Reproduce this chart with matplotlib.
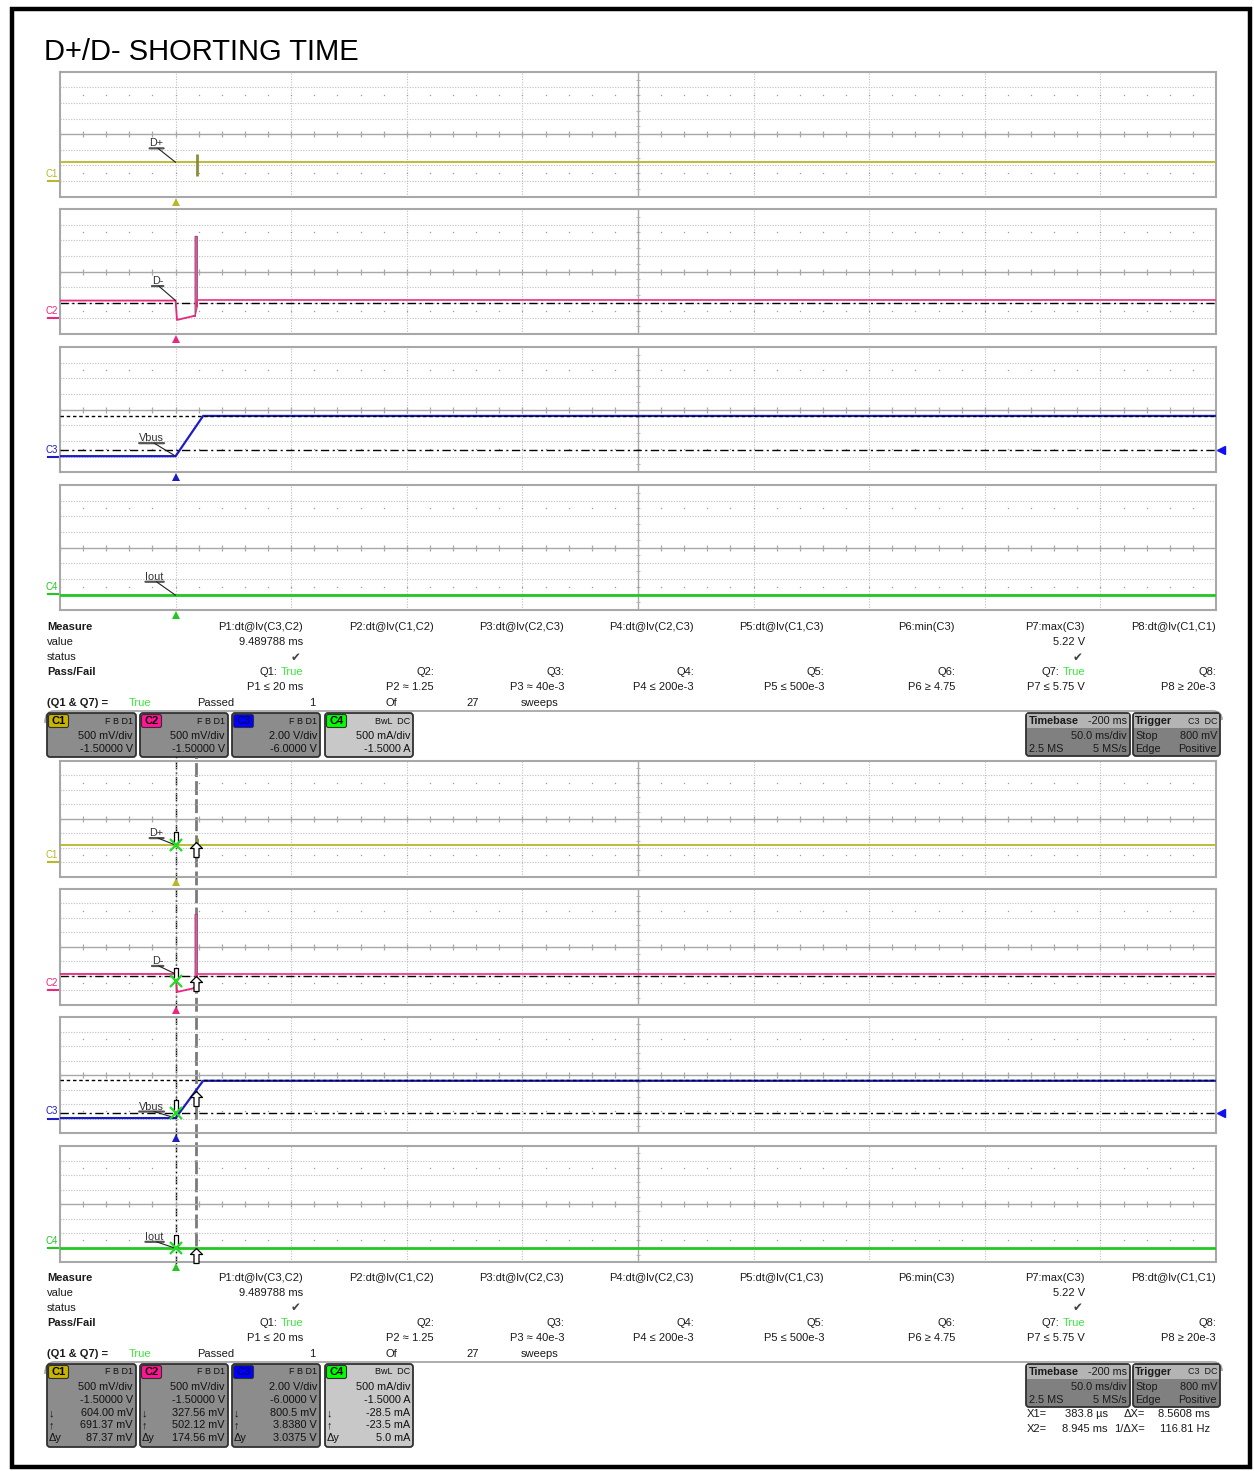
import numpy as np
import matplotlib
matplotlib.use('Agg')
import matplotlib.pyplot as plt
import matplotlib.patches as mpatches
from matplotlib.path import Path
from matplotlib.transforms import offset_copy, blended_transform_factory

plt.rcParams['font.family'] = ['Liberation Sans', 'DejaVu Sans']

# ---------------- DATA ----------------
title = 'D+/D- SHORTING TIME'
ms_per_div = 50.0
t_start = -50.0
n_xdiv = 10
n_ydiv = 8

channels = ['C1', 'C2', 'C3', 'C4']
trace_names = ['D+', 'D-', 'Vbus', 'Iout']
ch_colors = ['#B8B82A', '#E8287E', '#1C1CC4', '#22C822']
tab_colors = ['#C8B400', '#FF1493', '#0000FF', '#00FF00']
tab_text_colors = ['#000000', '#000000', '#000070', '#000000']
ch_per_div = [0.5, 0.5, 2.0, 0.5]
ch_offsets = [-1.5, -1.5, -6.0, -1.5]

c1_t = [-50.0, 450.0]
c1_v = [0.60, 0.60]
c1_glitch_t = [9.3]
c1_glitch_lo = [0.16]
c1_glitch_hi = [0.86]

c2_pre_t = [-50.0, 0.0, 0.6, 8.0]
c2_pre_v = [0.57, 0.57, -0.05, 0.08]
c2_spike_t = [8.2, 9.2]
c2_spike_lo = [0.08, 0.40]
c2_spike_hi = [2.64, 2.64]
c2_post_t = [9.3, 450.0]
c2_post_v = [0.58, 0.58]
c2_level = 0.5

c3_t = [-50.0, 0.0, 11.9, 450.0]
c3_v = [0.06, 0.06, 5.20, 5.20]
c3_trig_level = 0.8
c3_max_level = 5.25

c4_t = [-50.0, 450.0]
c4_v = [-0.028, -0.028]

cursor_x1 = 0.3838
cursor_x2 = 8.945
cursor_y1 = [0.60400, 0.32756, 0.8005, -0.0285]
cursor_y2 = [0.69137, 0.50212, 3.8380, -0.0235]

meas_names = ['P1:dt@lv(C3,C2)', 'P2:dt@lv(C1,C2)', 'P3:dt@lv(C2,C3)', 'P4:dt@lv(C2,C3)',
              'P5:dt@lv(C1,C3)', 'P6:min(C3)', 'P7:max(C3)', 'P8:dt@lv(C1,C1)']
meas_values = ['9.489788 ms', '', '', '', '', '', '5.22 V', '']
meas_status = ['\u2714', '', '', '', '', '', '\u2714', '']
q_names = ['Q1:', 'Q2:', 'Q3:', 'Q4:', 'Q5:', 'Q6:', 'Q7:', 'Q8:']
q_results = ['True', '', '', '', '', '', 'True', '']
q_limits = ['P1 \u2264 20 ms', 'P2 \u2248 1.25', 'P3 \u2248 40e-3', 'P4 \u2264 200e-3',
            'P5 \u2264 500e-3', 'P6 \u2265 4.75', 'P7 \u2264 5.75 V', 'P8 \u2265 20e-3']
summary = ['(Q1 & Q7) =', 'True', 'Passed', '1', 'Of', '27', 'sweeps']

box_flags = ['F B D1', 'F B D1', 'F B D1', 'BwL  DC']
box_scale_txt = ['500 mV/div', '500 mV/div', '2.00 V/div', '500 mA/div']
box_offset_txt = ['-1.50000 V', '-1.50000 V', '-6.0000 V', '-1.5000 A']
box_y1_txt = ['604.00 mV', '327.56 mV', '800.5 mV', '-28.5 mA']
box_y2_txt = ['691.37 mV', '502.12 mV', '3.8380 V', '-23.5 mA']
box_dy_txt = ['87.37 mV', '174.56 mV', '3.0375 V', '5.0 mA']

timebase_txt = ['Timebase', '-200 ms', '50.0 ms/div', '2.5 MS', '5 MS/s']
trigger_txt = ['Trigger', 'C3  DC', 'Stop', '800 mV', 'Edge', 'Positive']
cursor_txt = [['X1=', '383.8 \u00b5s', '\u0394X=', '8.5608 ms'],
              ['X2=', '8.945 ms', '1/\u0394X=', '116.81 Hz']]

# ---------------- FIGURE ----------------
W, H = 1254, 1471
fig = plt.figure(figsize=(W / 100, H / 100), dpi=100)
fig.patch.set_facecolor('white')

bg = fig.add_axes([0, 0, 1, 1])
bg.set_xlim(0, W)
bg.set_ylim(H, 0)
bg.axis('off')

def T(x, y, s, **kw):
    kw.setdefault('fontsize', 8)
    kw.setdefault('va', 'center')
    kw.setdefault('color', '#1a1a1a')
    return bg.text(x, y, s, **kw)

def px_axes(x0, y0, x1, y1):
    return fig.add_axes([x0 / W, 1 - y1 / H, (x1 - x0) / W, (y1 - y0) / H])

# outer frame
bg.add_patch(mpatches.Rectangle((12, 9), 1238, 1458, fill=False, ec='black', lw=3.2))
T(44, 52, title, fontsize=21, color='black', ha='left')

PX0, PX1 = 60, 1216
t_end = t_start + n_xdiv * ms_per_div
top_rows = [(71.7, 196.7), (209, 334), (347, 472.3), (485, 610)]
bot_rows = [(761, 877), (889, 1005), (1017, 1133), (1146, 1262)]

label_dx = [-19, -18, -24, -21]
label_dy_top = [19, 19.5, 18, 18.5]
label_dy_bot = [12, 13, 11.5, 11.5]

def to_div(v, k):
    return (np.asarray(v, dtype=float) + ch_offsets[k]) / ch_per_div[k]

# cursor overlay (bottom half)
ov = px_axes(PX0, 757, PX1, 1264)
ov.set_xlim(t_start, t_end)
ov.set_ylim(0, 1)
ov.axis('off')
ov.axvline(cursor_x1, color='black', lw=1.0, ls=(0, (6, 2, 1.5, 2)))
ov.axvline(cursor_x2, color='#7a7a7a', lw=2.0, ls=(0, (5, 1.5)))

arrow_up = [(0, 0), (6, -6), (2.5, -6), (2.5, -15), (-2.5, -15), (-2.5, -6), (-6, -6), (0, 0)]
arrow_dn = [(0, 0), (3.5, 4), (2, 4), (2, 13), (-2, 13), (-2, 4), (-3.5, 4), (0, 0)]

def grid(ax):
    ax.set_xlim(t_start, t_end)
    ax.set_ylim(-n_ydiv / 2, n_ydiv / 2)
    ax.set_facecolor('none')
    ax.set_xticks([])
    ax.set_yticks([])
    for s in ax.spines.values():
        s.set_color('#A8A8A8')
        s.set_linewidth(1.5)
    for i in range(1, n_xdiv):
        x = t_start + i * ms_per_div
        if i == n_xdiv // 2:
            ax.axvline(x, color='#A8A8A8', lw=1.0, zorder=1)
        else:
            ax.axvline(x, color='#BEBEBE', lw=0.8, ls=(0, (1, 1.4)), zorder=1)
    for j in range(-n_ydiv // 2 + 1, n_ydiv // 2):
        if j == 0:
            ax.axhline(0, color='#A8A8A8', lw=1.0, zorder=1)
        else:
            ax.axhline(j, color='#BEBEBE', lw=0.8, ls=(0, (1, 1.4)), zorder=1)
    mt = np.arange(t_start, t_end + 1e-9, ms_per_div / 5)
    ax.plot(mt, np.zeros_like(mt), ls='none', marker='|', ms=5, mew=0.9, color='#A8A8A8', zorder=1)
    my = np.arange(-n_ydiv / 2, n_ydiv / 2 + 1e-9, 0.5)
    ax.plot(np.full_like(my, t_start + ms_per_div * n_xdiv / 2), my, ls='none', marker='_',
            ms=3.5, mew=0.7, color='#B4B4B4', zorder=1)
    for yy in (-2.5, 2.5):
        ax.plot(mt, np.full_like(mt, yy), ls='none', marker='s', ms=0.9, mew=0,
                color='#9A9A9A', zorder=1)

def draw_panel(k, y0, y1, bottom):
    ax = px_axes(PX0, y0, PX1, y1)
    grid(ax)
    col = ch_colors[k]
    if k == 0:
        ax.plot(c1_t, to_div(c1_v, 0), color=col, lw=1.3, zorder=3)
        ax.vlines(c1_glitch_t, to_div(c1_glitch_lo, 0), to_div(c1_glitch_hi, 0),
                  color='#8C8C3A', lw=2.0, zorder=3)
        tv = np.interp(0, c1_t, c1_v)
    elif k == 1:
        ax.axhline(to_div(c2_level, 1), color='black', lw=1.0, ls=(0, (6, 2.5, 1.5, 2.5)), zorder=2)
        ax.plot(c2_pre_t, to_div(c2_pre_v, 1), color=col, lw=1.3, zorder=3)
        ax.fill_between(c2_spike_t, to_div(c2_spike_lo, 1), to_div(c2_spike_hi, 1),
                        color='#CC6A9C', lw=0.8, ec='#B24A80', zorder=3)
        ax.plot([c2_pre_t[-1], c2_spike_t[0]], to_div([c2_pre_v[-1], c2_spike_lo[0]], 1),
                color=col, lw=1.3, zorder=3)
        ax.plot([c2_spike_t[-1], c2_post_t[0]], to_div([c2_spike_lo[-1], c2_post_v[0]], 1),
                color=col, lw=1.3, zorder=3)
        ax.plot(c2_post_t, to_div(c2_post_v, 1), color='#EE3E8E', lw=1.3, zorder=3)
        tv = np.interp(0, c2_pre_t, c2_pre_v)
    elif k == 2:
        ax.plot(c3_t, to_div(c3_v, 2), color=col, lw=1.6, zorder=3)
        ax.axhline(to_div(c3_trig_level, 2), color='black', lw=1.0, ls=(0, (6, 2.5, 1.5, 2.5)), zorder=4)
        ax.axhline(to_div(c3_max_level, 2), color='black', lw=1.0, ls=(0, (2.5, 2)), zorder=4)
        ax.plot([t_end], [to_div(c3_trig_level, 2)], marker='<', ms=6, color='#1010F0', clip_on=False,
                transform=offset_copy(ax.transData, fig=fig, x=5, y=0, units='dots'), zorder=5)
        tv = np.interp(0, c3_t, c3_v)
    else:
        ax.plot(c4_t, to_div(c4_v, 3), color=col, lw=2.0, zorder=3)
        tv = np.interp(0, c4_t, c4_v)

    # channel ground marker and name
    trans = blended_transform_factory(fig.transFigure, ax.transData)
    gnd = ch_offsets[k] / ch_per_div[k]
    ax.plot([48 / W, 59 / W], [gnd, gnd], color=col, lw=1.5, transform=trans, clip_on=False)
    ax.text(52 / W, gnd, channels[k], transform=offset_copy(trans, fig=fig, y=7, units='dots'),
            ha='center', va='center', fontsize=7, color=col)

    # trigger position marker
    ax.plot([0], [-n_ydiv / 2], marker='^', ms=6, color=col, clip_on=False, mew=0,
            transform=offset_copy(ax.transData, fig=fig, x=0, y=-5, units='dots'), zorder=5)

    # trace label (text, underline, pointer)
    pt = (0, float(to_div(tv, k)))
    dy = label_dy_bot[k] if bottom else label_dy_top[k]
    lab = ax.annotate(trace_names[k], xy=pt, xycoords='data', xytext=(label_dx[k], dy),
                      textcoords='offset pixels', ha='center', va='center', fontsize=7.8,
                      color='#333333', zorder=6)
    ax.annotate('', xy=(1.0, 0.0), xycoords=lab, xytext=(0.0, 0.0), textcoords=lab,
                arrowprops=dict(arrowstyle='-', color='#555555', lw=1.6, shrinkA=0, shrinkB=0),
                zorder=6)
    ax.annotate('', xy=pt, xycoords='data', xytext=(0.6, 0.0), textcoords=lab,
                arrowprops=dict(arrowstyle='-', color='#222222', lw=0.8, shrinkA=0, shrinkB=0),
                zorder=6)

    if bottom:
        ax.plot([cursor_x1], [to_div(cursor_y1[k], k)], ls='none', marker=arrow_dn, ms=18.7,
                mfc='white', mec='black', mew=0.9, zorder=7, clip_on=False)
        ax.plot([cursor_x2], [to_div(cursor_y2[k], k)], ls='none', marker=arrow_up, ms=21.6,
                mfc='white', mec='black', mew=0.9, zorder=7, clip_on=False)
        ax.plot([cursor_x1], [to_div(cursor_y1[k], k)], ls='none', marker='x', ms=8,
                mew=1.6, color='#22DD22', zorder=8, clip_on=False)
    return ax

for k in range(4):
    draw_panel(k, *top_rows[k], bottom=False)
for k in range(4):
    draw_panel(k, *bot_rows[k], bottom=True)

# ---------------- TABLES ----------------
col_right = [303, 434, 564, 694, 824, 955, 1085, 1216]
GREEN = '#3CE63C'

def draw_table(y0):
    rows = [y0, y0 + 15, y0 + 30, y0 + 45, y0 + 60, y0 + 76]
    T(47, rows[0], 'Measure', fontweight='bold')
    T(47, rows[1], 'value')
    T(47, rows[2], 'status')
    T(47, rows[3], 'Pass/Fail', fontweight='bold')
    for i, xr in enumerate(col_right):
        T(xr, rows[0], meas_names[i], ha='right')
        if meas_values[i]:
            T(xr, rows[1], meas_values[i], ha='right')
        if meas_status[i]:
            T(xr - 2, rows[2], meas_status[i], ha='right', color='#404040', fontsize=8.5,
              family=['DejaVu Sans'])
        if q_results[i]:
            tr = T(xr, rows[3], q_results[i], ha='right', color=GREEN)
            bg.annotate(q_names[i], xy=(0, 0.5), xycoords=tr, xytext=(-3, 0),
                        textcoords='offset pixels', ha='right', va='center', fontsize=8,
                        color='#1a1a1a')
        else:
            T(xr, rows[3], q_names[i], ha='right')
        T(xr, rows[4], q_limits[i], ha='right')
    r = rows[5]
    T(47, r, summary[0], fontweight='bold')
    T(129, r, summary[1], color=GREEN)
    T(197, r, summary[2])
    T(315, r, summary[3], ha='right')
    T(386, r, summary[4])
    T(479, r, summary[5], ha='right')
    T(521, r, summary[6])

draw_table(627)
draw_table(1278)

def frame_line(y):
    verts = [(45, y + 12), (45, y), (54, y), (1213, y), (1222, y), (1222, y + 9)]
    codes = [Path.MOVETO, Path.CURVE3, Path.CURVE3, Path.LINETO, Path.CURVE3, Path.CURVE3]
    bg.add_patch(mpatches.PathPatch(Path(verts, codes), fill=False, ec='#A0A0A0', lw=1.2))

frame_line(711)
frame_line(1362)

def rbox(x0, y0, x1, y1, fc, ec='#303030', lw=1.3):
    bg.add_patch(mpatches.FancyBboxPatch((x0, y0), x1 - x0, y1 - y0,
                                         boxstyle='round,pad=0,rounding_size=3',
                                         fc=fc, ec=ec, lw=lw))

box_x = [(47, 136), (140, 228), (232, 320), (325, 413)]

def draw_channel_boxes(y0, extended):
    y1 = y0 + (83 if extended else 44)
    for k, (x0, x1) in enumerate(box_x):
        fc = '#C8C8C8' if k == 3 else '#8C8C8C'
        rbox(x0, y0, x1, y1, fc)
        bg.add_patch(mpatches.FancyBboxPatch((x0 + 1.5, y0 + 1.5), 20, 13,
                                             boxstyle='round,pad=0,rounding_size=2',
                                             fc=tab_colors[k], ec='#303030', lw=0.8))
        T(x0 + 11.5, y0 + 8, channels[k], ha='center', fontsize=8, fontweight='bold',
          color=tab_text_colors[k])
        T(x1 - 3, y0 + 8, box_flags[k], ha='right', fontsize=6.5, color='#111111')
        T(x1 - 3, y0 + 23, box_scale_txt[k], ha='right', fontsize=7.8, color='#111111')
        T(x1 - 3, y0 + 36, box_offset_txt[k], ha='right', fontsize=7.8, color='#111111')
        if extended:
            for j, (sym, txt) in enumerate(zip(['\u2193', '\u2191', '\u0394y'],
                                               [box_y1_txt[k], box_y2_txt[k], box_dy_txt[k]])):
                yy = y0 + 49 + 12.5 * j
                T(x0 + 2, yy, sym, ha='left', fontsize=7.8, color='#111111')
                T(x1 - 3, yy, txt, ha='right', fontsize=7.8, color='#111111')

def draw_time_trig(y0):
    y1 = y0 + 43
    # timebase
    rbox(1026, y0, 1130, y1, '#808080')
    bg.add_patch(mpatches.Rectangle((1027, y0 + 1), 102, 14, fc='#B4B4B4', ec='none'))
    T(1029, y0 + 8, timebase_txt[0], fontsize=7.8, fontweight='bold')
    T(1127, y0 + 8, timebase_txt[1], ha='right', fontsize=7.8)
    T(1127, y0 + 23, timebase_txt[2], ha='right', fontsize=7.8)
    T(1029, y0 + 36, timebase_txt[3], fontsize=7.8)
    T(1127, y0 + 36, timebase_txt[4], ha='right', fontsize=7.8)
    # trigger
    rbox(1133, y0, 1220, y1, '#808080')
    bg.add_patch(mpatches.Rectangle((1134, y0 + 1), 85, 14, fc='#B4B4B4', ec='none'))
    T(1135, y0 + 8, trigger_txt[0], fontsize=7.8, fontweight='bold')
    T(1217, y0 + 8, trigger_txt[1], ha='right', fontsize=6.5)
    T(1135, y0 + 23, trigger_txt[2], fontsize=7.8)
    T(1217, y0 + 23, trigger_txt[3], ha='right', fontsize=7.8)
    T(1135, y0 + 36, trigger_txt[4], fontsize=7.8)
    T(1217, y0 + 36, trigger_txt[5], ha='right', fontsize=7.8)

draw_channel_boxes(713, False)
draw_time_trig(713)
draw_channel_boxes(1364, True)
draw_time_trig(1364)

for j, row in enumerate(cursor_txt):
    yy = 1414 + 15 * j
    T(1027, yy, row[0], fontsize=8)
    T(1108, yy, row[1], ha='right', fontsize=8)
    T(1114 if j else 1124, yy, row[2], fontsize=8)
    T(1210, yy, row[3], ha='right', fontsize=8)

fig.savefig('out.png', dpi=100, facecolor='white')
